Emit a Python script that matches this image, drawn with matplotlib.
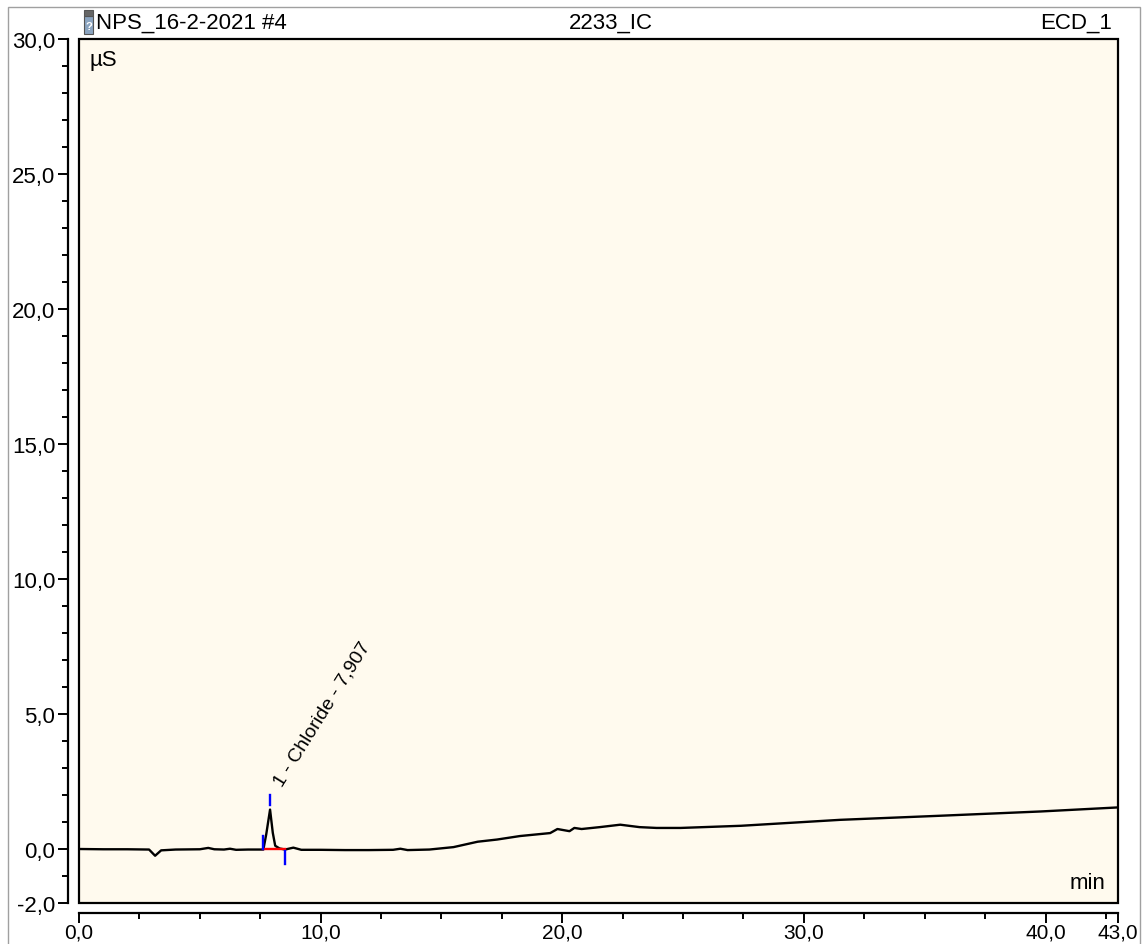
import matplotlib
matplotlib.use("Agg")
import matplotlib.pyplot as plt
from matplotlib.patches import Rectangle
from matplotlib.ticker import MultipleLocator, FixedLocator, FuncFormatter

plt.rcParams["font.family"] = ["Liberation Sans", "DejaVu Sans"]

# chromatogram trace (min, µS)
times = [0, 1, 2, 2.9, 3.15, 3.4, 4, 5.0, 5.35, 5.6, 6.0, 6.25, 6.5, 7.0,
         7.63, 7.75, 7.907, 8.02, 8.12, 8.3, 8.53, 8.87, 9.2, 10, 11, 12, 13,
         13.3, 13.6, 14.5, 15.5, 16.5, 17.3, 18.25, 19.5, 19.8, 20.3, 20.5,
         20.8, 21.55, 22.4, 23.2, 23.9, 24.9, 27.4, 31.5, 35.6, 39.8, 43]
signal = [0, -0.01, -0.01, -0.02, -0.25, -0.05, -0.02, -0.01, 0.04, -0.01,
          -0.02, 0.01, -0.03, -0.02, -0.02, 0.55, 1.46, 0.6, 0.12, 0.02,
          -0.02, 0.05, -0.03, -0.03, -0.04, -0.04, -0.03, 0.01, -0.04, -0.02,
          0.07, 0.27, 0.35, 0.48, 0.59, 0.74, 0.66, 0.78, 0.74, 0.81, 0.9,
          0.81, 0.78, 0.78, 0.86, 1.08, 1.23, 1.39, 1.54]

# integrated peak
peak_name = "1 - Chloride - 7,907"
peak_rt = 7.907
peak_start, peak_end = 7.63, 8.53

x_major = [0, 10, 20, 30, 40, 43]
y_major = [-2, 0, 5, 10, 15, 20, 25, 30]

FS = 16

fig = plt.figure(figsize=(11.44, 9.45), dpi=100)
fig.patch.set_facecolor("white")
ax = fig.add_axes([79 / 1144, 1 - 904 / 945, 1039 / 1144, 864 / 945])
ax.set_facecolor("#fffaee")

ax.plot(times, signal, color="black", lw=1.7, zorder=3)

# baseline + delimiters
ax.plot([peak_start, peak_end], [-0.01, -0.01], color="#ff0000", lw=1.7, zorder=3.5)
ax.plot([peak_start, peak_start], [0.0, 0.5], color="#0000ff", lw=1.7, zorder=4)
ax.plot([peak_end, peak_end], [-0.08, -0.55], color="#0000ff", lw=1.7, zorder=4)
ax.plot([peak_rt, peak_rt], [1.62, 2.0], color="#0000ff", lw=1.7, zorder=4)
ax.text(8.4, 2.3, peak_name, rotation=58, rotation_mode="anchor",
        ha="left", va="baseline", fontsize=14)

ax.set_xlim(0, 43)
ax.set_ylim(-2, 30)

# frame around plot area
ax.add_patch(Rectangle((0, 0), 1, 1, transform=ax.transAxes, fill=False,
                       lw=1.6, edgecolor="black", zorder=5, clip_on=False))

for s in ("top", "right"):
    ax.spines[s].set_visible(False)
ax.spines["left"].set_position(("outward", 8))
ax.spines["bottom"].set_position(("outward", 7))
ax.spines["left"].set_linewidth(1.6)
ax.spines["bottom"].set_linewidth(1.6)

fmt = FuncFormatter(lambda v, p: f"{v:.1f}".replace(".", ","))
ax.xaxis.set_major_locator(FixedLocator(x_major))
ax.xaxis.set_minor_locator(MultipleLocator(2.5))
ax.yaxis.set_major_locator(FixedLocator(y_major))
ax.yaxis.set_minor_locator(MultipleLocator(1))
ax.xaxis.set_major_formatter(fmt)
ax.yaxis.set_major_formatter(fmt)
ax.tick_params(axis="both", which="major", labelsize=FS, width=1.4,
               length=7, direction="out")
ax.tick_params(axis="both", which="minor", width=1.4, length=4.5,
               direction="out")
ax.tick_params(axis="x", pad=0, labelsize=15)
ax.tick_params(axis="y", pad=2)

ax.text(0.010, 0.988, "µS", transform=ax.transAxes, ha="left", va="top",
        fontsize=FS)
ax.text(0.988, 0.012, "min", transform=ax.transAxes, ha="right",
        va="bottom", fontsize=FS)

# header
fig.text(96 / 1144, 1 - 23 / 945, "NPS_16-2-2021 #4", ha="left",
         va="center", fontsize=FS)
fig.text(611 / 1144, 1 - 23 / 945, "2233_IC", ha="center", va="center",
         fontsize=FS)
fig.text(1112 / 1144, 1 - 23 / 945, "ECD_1", ha="right", va="center",
         fontsize=FS)
# small vial icon
fig.patches.append(Rectangle((84 / 1144, 1 - 35 / 945), 9 / 1144, 18 / 945,
                             transform=fig.transFigure, facecolor="#8aa4c0",
                             edgecolor="#555555", lw=0.8))
fig.patches.append(Rectangle((84 / 1144, 1 - 17 / 945), 9 / 1144, 6 / 945,
                             transform=fig.transFigure, facecolor="#666666",
                             edgecolor="#555555", lw=0.8))
fig.text(88.5 / 1144, 1 - 27 / 945, "?", ha="center", va="center",
         fontsize=8, color="white", fontweight="bold")

# outer border
fig.patches.append(Rectangle((8 / 1144, -0.01), 1132 / 1144, 1.01 - 8 / 945,
                             transform=fig.transFigure, fill=False,
                             edgecolor="#a0a0a0", lw=1.0))

fig.savefig("out.png", dpi=100)
